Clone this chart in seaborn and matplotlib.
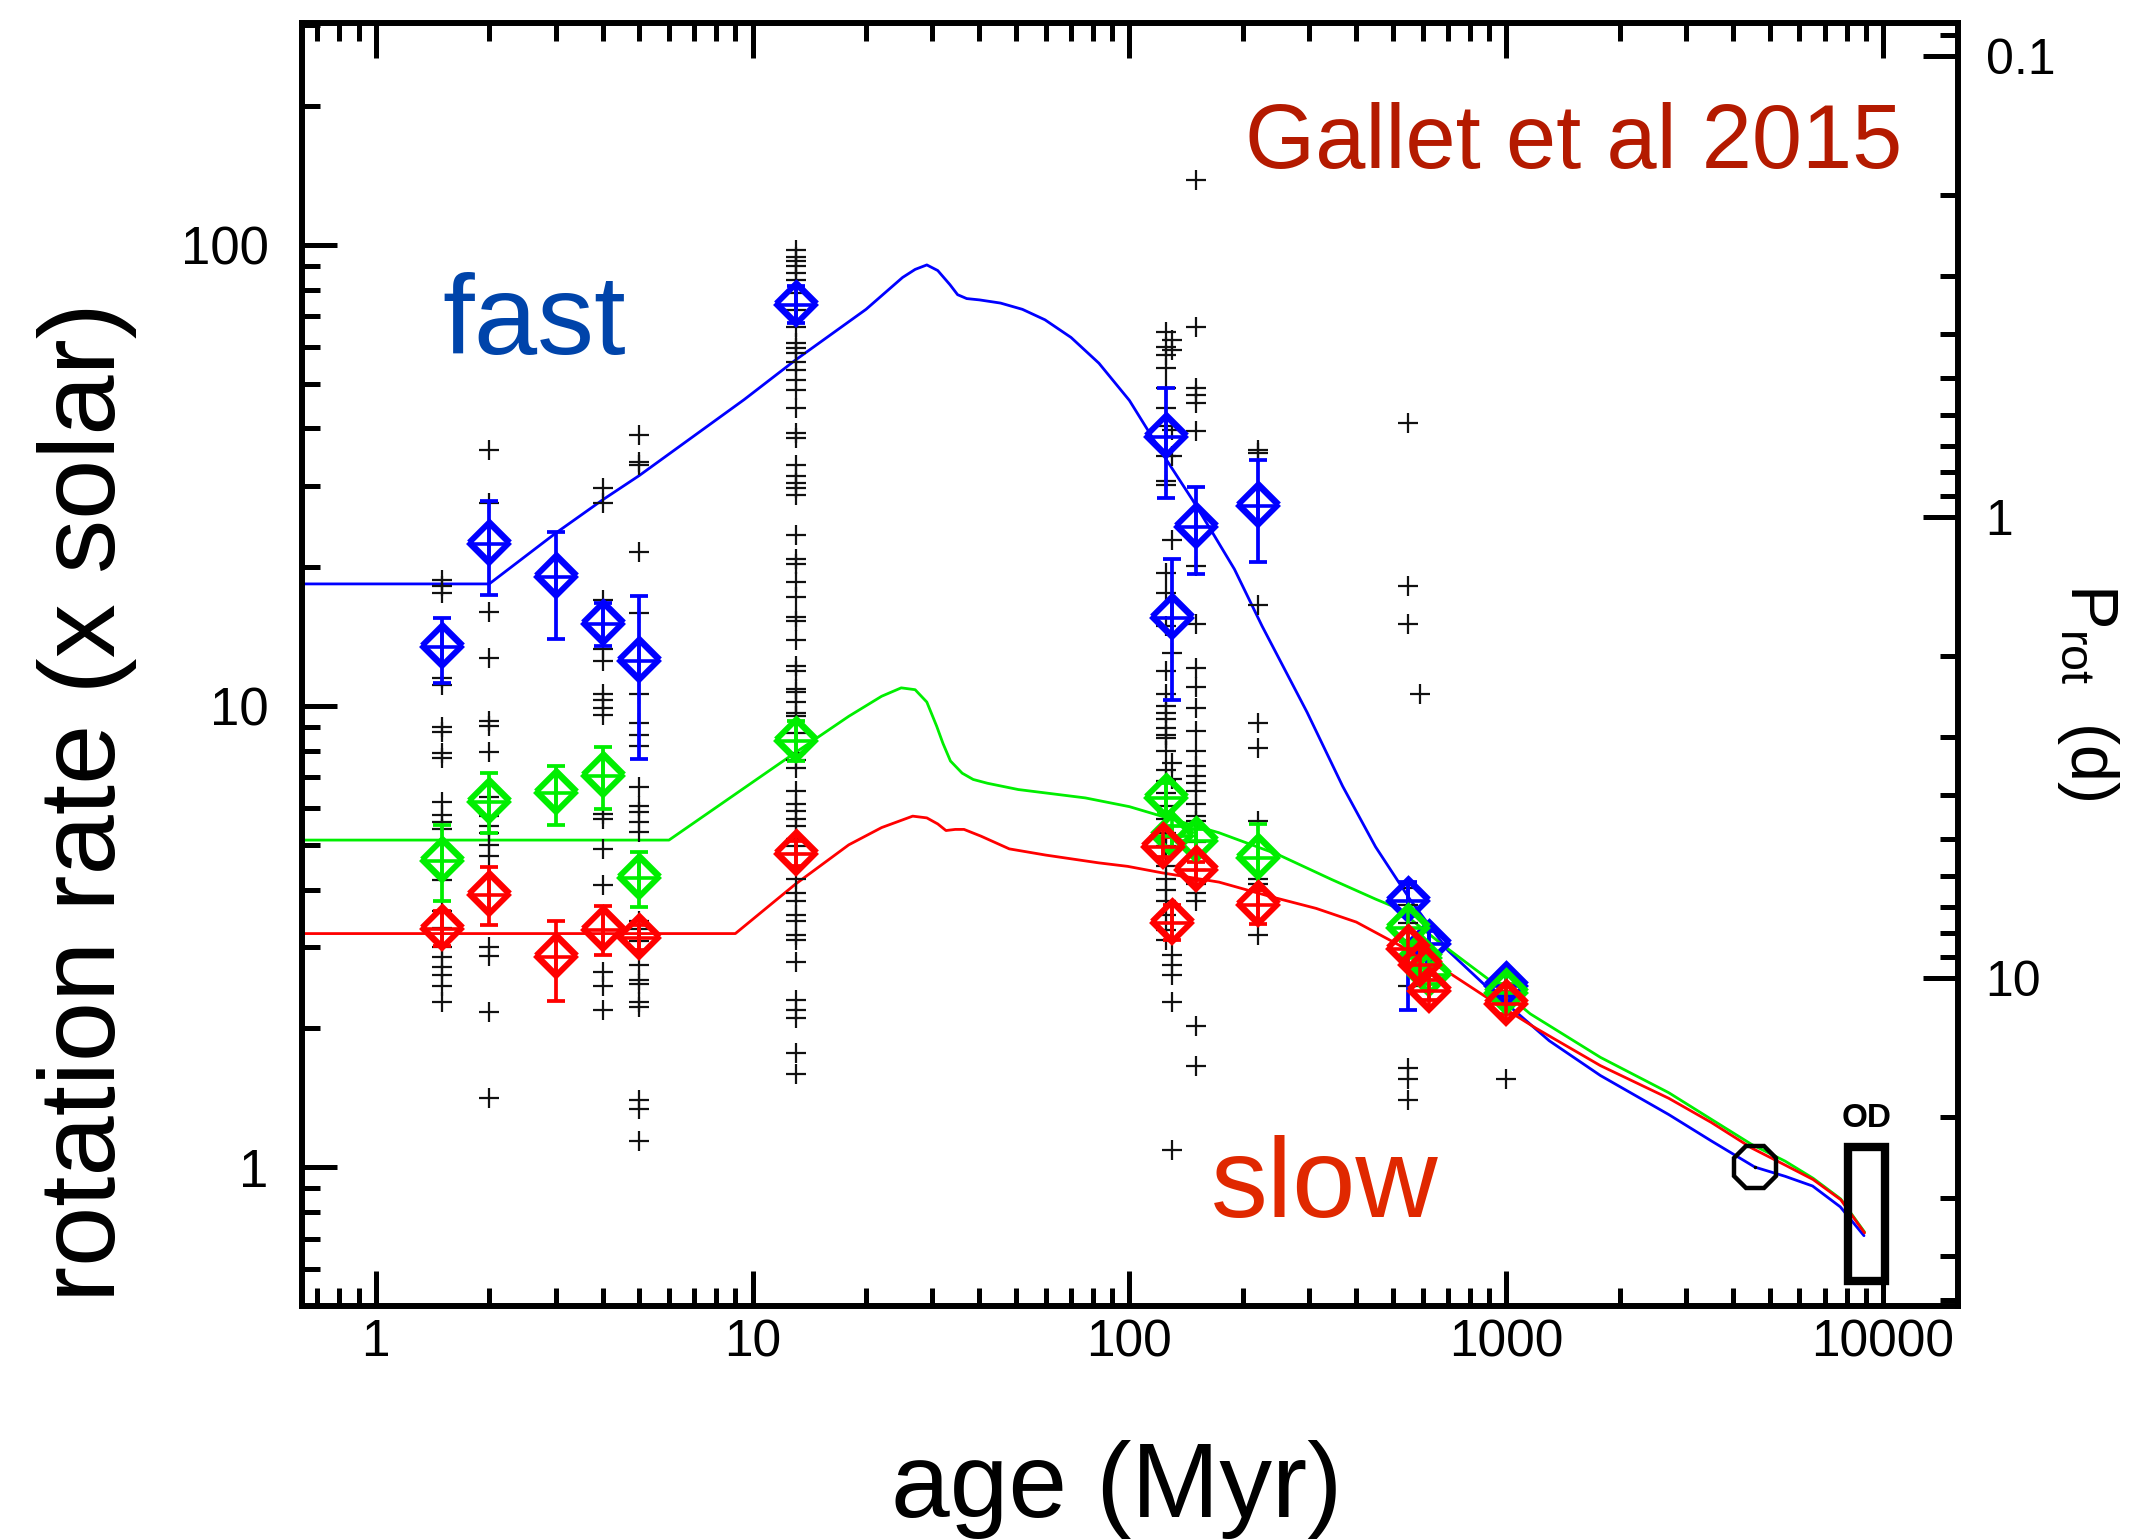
import numpy as np
import pandas as pd
import matplotlib
matplotlib.use("Agg")
import matplotlib.pyplot as plt
import matplotlib.transforms as mtransforms
import seaborn as sns
from matplotlib.ticker import FixedLocator, FixedFormatter, NullFormatter
from matplotlib.patches import Rectangle

# ---------------------------------------------------------------- data
# model tracks: age (Myr) -> rotation rate (x solar)
fast_age = [0.637, 2.0, 3.0, 4.0, 5.0, 9.5, 13, 20, 25, 27, 29, 31, 33.4, 35, 37, 40, 45.5,
            52, 59.7, 70, 83, 100, 122, 147, 166, 190, 225, 296, 368, 450, 555, 700, 883, 1042,
            1300, 1778, 2700, 3500, 4570, 5500, 6500, 7700, 8900]
fast_rate = [18.4, 18.4, 23.7, 28.0, 31.6, 46.2, 56.3, 72.5, 85, 88.5, 90.5, 88.0, 82, 78, 76.5,
             76, 74.8, 72.5, 68.8, 63, 55.4, 46, 35.4, 28, 23.8, 19.8, 14.9, 9.7, 6.7, 4.95,
             3.81, 2.95, 2.47, 2.2, 1.88, 1.58, 1.30, 1.14, 1.0, 0.955, 0.91, 0.82, 0.71]

med_age = [0.637, 6.0, 13, 18, 22, 24.8, 27, 29, 30.8, 32, 33.5, 36, 38.5, 42, 50.7, 76.4, 100,
           121.6, 173, 247, 343, 451, 512, 672, 900, 1158, 1778, 2700, 3500, 4480, 5500,
           6520, 7720, 8930]
med_rate = [5.12, 5.12, 7.93, 9.5, 10.5, 10.95, 10.85, 10.2, 9.04, 8.3, 7.6, 7.15, 6.93, 6.8,
            6.59, 6.32, 6.05, 5.77, 5.31, 4.77, 4.21, 3.81, 3.65, 3.05, 2.55, 2.15, 1.73,
            1.45, 1.27, 1.12, 1.03, 0.946, 0.853, 0.723]

slow_age = [0.637, 9.0, 13, 18, 22, 26.6, 29, 31, 32.6, 34.5, 36.4, 40.4, 48, 60, 82.8, 99,
            121.6, 173, 240, 313, 400, 512, 700, 883, 1200, 1778, 2700, 3500, 4480, 5500,
            6520, 7720, 8930]
slow_rate = [3.21, 3.21, 4.11, 5.0, 5.45, 5.77, 5.72, 5.55, 5.37, 5.40, 5.40, 5.22, 4.9, 4.75,
             4.57, 4.49, 4.35, 4.15, 3.85, 3.64, 3.4, 3.05, 2.65, 2.34, 2.0, 1.66, 1.41,
             1.25, 1.10, 1.01, 0.94, 0.85, 0.72]

# cluster percentiles (diamonds with error bars)
fast_pt_age = [1.5, 2, 3, 4, 5, 13, 125, 130, 150, 220, 550, 625, 1000]
fast_pt_rate = [13.4, 22.5, 19.0, 15.1, 12.5, 74.1, 38.4, 15.5, 24.5, 27.2, 3.77, 3.05, 2.47]
fast_pt_lo = [11.2, 17.4, 14.0, 13.5, 7.69, 67.7, 28.3, 10.3, 19.3, 20.5, 2.19, 2.85, 2.35]
fast_pt_hi = [15.5, 27.8, 23.9, 16.7, 17.3, 81.3, 48.9, 20.8, 29.9, 34.2, 4.15, 3.25, 2.6]

med_pt_age = [1.5, 2, 3, 4, 5, 13, 125, 130, 150, 220, 550, 590, 625, 1000]
med_pt_rate = [4.61, 6.20, 6.49, 7.04, 4.24, 8.39, 6.32, 5.22, 5.09, 4.69, 3.30, 2.84, 2.61, 2.39]
med_pt_lo = [3.77, 5.31, 5.51, 5.99, 3.67, 7.6, 5.9, 4.9, 4.75, 4.0, 3.1, 2.7, 2.5, 2.3]
med_pt_hi = [5.51, 7.14, 7.43, 8.15, 4.82, 9.27, 6.8, 5.5, 5.4, 5.55, 3.5, 3.0, 2.75, 2.5]

slow_pt_age = [1.5, 2, 3, 4, 5, 13, 123, 130, 150, 220, 550, 590, 625, 1000]
slow_pt_rate = [3.29, 3.90, 2.86, 3.26, 3.14, 4.78, 4.95, 3.39, 4.41, 3.70, 2.97, 2.75, 2.41, 2.26]
slow_pt_lo = [3.01, 3.35, 2.29, 2.89, 2.95, 4.5, 4.7, 3.11, 4.2, 3.36, 2.85, 2.6, 2.3, 2.15]
slow_pt_hi = [3.59, 4.48, 3.42, 3.69, 3.35, 5.1, 5.2, 3.70, 4.6, 4.0, 3.1, 2.9, 2.55, 2.4]

# individual stars (black crosses), one list per cluster
stars_1p5 = [18.8, 18.2, 17.6, 11.5, 11.1, 9.0, 8.8, 7.9, 7.7, 6.2, 5.8, 5.6, 5.4, 4.19, 3.6,
             3.3, 3.0, 2.85, 2.72, 2.61, 2.47, 2.28]
stars_2 = [35.9, 27.6, 16.0, 12.7, 9.27, 9.05, 7.93, 6.34, 5.77, 5.5, 5.3, 4.99, 4.74, 3.0,
           2.87, 2.17, 1.41]
stars_4 = [29.7, 27.6, 17.0, 13.3, 12.5, 10.6, 10.3, 9.92, 9.58, 5.82, 5.68, 4.89, 4.1, 2.65,
           2.47, 2.19]
stars_5 = [38.7, 33.9, 33.4, 21.6, 15.9, 10.6, 9.2, 8.67, 8.18, 6.66, 6.07, 5.88, 5.59, 5.32,
           3.42, 3.28, 3.1, 2.75, 2.54, 2.49, 2.28, 2.23, 1.40, 1.34, 1.14]
stars_13 = [97.5, 94.3, 92.1, 89.8, 86.8, 84.0, 78.6, 72.2, 66.5, 61.2, 59.7, 58.2, 55.8, 53.6,
            51.0, 48.5, 44.3, 39.1, 38.1, 33.4, 31.5, 30.5, 29.7, 28.7, 23.5, 20.8, 20.3, 18.6,
            17.2, 15.6, 15.3, 13.9, 12.2, 11.9, 10.9, 10.7, 10.2, 9.68, 9.5, 8.75, 7.92, 7.65,
            7.35, 6.54, 6.12, 5.92, 5.68, 5.49, 5.14, 4.97, 4.77, 4.21, 3.94, 3.77, 3.52, 3.42,
            3.19, 3.11, 2.79, 2.30, 2.19, 2.11, 1.77, 1.59]
stars_125 = [64.9, 60.2, 57.8, 54.1, 48.9, 44.3, 40.4, 34.8, 30.7, 30.2, 19.4, 17.6, 14.9, 11.9,
             10.6, 9.99, 9.67, 9.35, 8.97, 8.67, 8.53, 7.98, 7.28, 6.87, 6.49, 6.07, 5.68, 5.31,
             4.97, 4.50, 4.21, 4.0, 3.77, 3.52, 3.27, 3.11]
stars_130 = [62.2, 59.2, 39.7, 34.8, 22.9, 13.0, 7.53, 6.93, 2.89, 2.75, 2.61, 2.28, 1.09]
stars_150 = [138, 66.5, 48.9, 47.3, 45.4, 39.4, 20.1, 15.1, 12.1, 11.0, 9.91, 8.82, 7.98, 7.41,
             7.04, 6.82, 6.54, 6.12, 5.77, 5.63, 5.08, 4.73, 4.41, 4.11, 3.94, 3.77, 2.02, 1.66]
stars_220 = [35.9, 35.4, 16.6, 9.2, 8.12, 5.63, 4.21, 4.11, 3.19]
stars_550 = [41.1, 18.2, 15.1, 4.04, 3.70, 3.39, 3.11, 2.89, 2.47, 1.64, 1.55, 1.40]
stars_590 = [10.6]
stars_1000 = [1.55]
star_cluster_ages = [1.5, 2, 4, 5, 13, 125, 130, 150, 220, 550, 590, 1000]

sun_age = [4570]
sun_rate = [1.0]
od_age = [8090, 10090]
od_rate = [0.567, 1.108]
PROT_SUN = 25.7  # days, P_rot = PROT_SUN / rate

x_major = [1, 10, 100, 1000, 10000]
x_major_labels = ["1", "10", "100", "1000", "10000"]
y_major = [1, 10, 100]
y_major_labels = ["1", "10", "100"]
p_major = [0.1, 1, 10]
p_major_labels = ["0.1", "1", "10"]

# ---------------------------------------------------------------- style
sns.set_theme(style="ticks")
plt.rcParams["font.family"] = ["Liberation Sans", "DejaVu Sans"]
plt.rcParams["mathtext.default"] = "regular"
for k in ["text.color", "axes.labelcolor", "xtick.color", "ytick.color", "axes.edgecolor"]:
    plt.rcParams[k] = "black"

BLUE, GREEN, RED = "#0000FF", "#00EE00", "#FF0000"

fig = plt.figure(figsize=(21.37, 15.40), dpi=100)
ax = fig.add_axes([0.1413, 0.152, 0.7749, 0.8331])
ax.set_xscale("log")
ax.set_yscale("log")
XMIN, XMAX, YMIN, YMAX = 0.637, 15800, 0.5, 303
ax.set_xlim(XMIN, XMAX)
ax.set_ylim(YMIN, YMAX)

# model tracks
tracks = pd.concat([
    pd.DataFrame({"age": fast_age, "rate": fast_rate, "track": "fast"}),
    pd.DataFrame({"age": med_age, "rate": med_rate, "track": "median"}),
    pd.DataFrame({"age": slow_age, "rate": slow_rate, "track": "slow"}),
], ignore_index=True)
sns.lineplot(data=tracks, x="age", y="rate", hue="track", units="track",
             palette={"fast": BLUE, "median": GREEN, "slow": RED},
             sort=False, estimator=None, legend=False, linewidth=2.0, ax=ax, zorder=2)

# individual stars
star_lists = [stars_1p5, stars_2, stars_4, stars_5, stars_13, stars_125, stars_130,
              stars_150, stars_220, stars_550, stars_590, stars_1000]
stars = pd.DataFrame({
    "age": np.concatenate([[a] * len(l) for a, l in zip(star_cluster_ages, star_lists)]),
    "rate": np.concatenate(star_lists),
})
sns.scatterplot(data=stars, x="age", y="rate", marker="+", s=190, color="#111111",
                linewidth=1.6, ax=ax, zorder=3, legend=False)

# percentile diamonds (drawn twice, slightly offset, as in the original plot)
shift_up = mtransforms.offset_copy(ax.transData, fig=fig, x=0, y=4, units="dots")
for a, r, lo, hi, c in [
    (fast_pt_age, fast_pt_rate, fast_pt_lo, fast_pt_hi, BLUE),
    (med_pt_age, med_pt_rate, med_pt_lo, med_pt_hi, GREEN),
    (slow_pt_age, slow_pt_rate, slow_pt_lo, slow_pt_hi, RED),
]:
    a = np.array(a); r = np.array(r); lo = np.array(lo); hi = np.array(hi)
    ax.errorbar(a, r, yerr=[r - lo, hi - r], fmt="none", ecolor=c, elinewidth=2.7,
                capsize=6.8, capthick=2.7, zorder=4)
    ax.plot(a, r, ls="none", marker="D", ms=20, mfc="none", mec=c, mew=3.0, zorder=5)
    ax.plot(a, r, ls="none", marker="D", ms=20, mfc="none", mec=c, mew=2.4, zorder=5,
            transform=shift_up)
    ax.plot(a, r, ls="none", marker="+", ms=28, mec=c, mew=2.6, zorder=5)

# Sun and old-disc box
ax.plot(sun_age, sun_rate, ls="none", marker="8", ms=33, mfc="none", mec="black", mew=3.2,
        zorder=6)
ax.plot(sun_age, sun_rate, ls="none", marker=".", ms=3, color="black", zorder=6)
ax.add_patch(Rectangle((od_age[0], od_rate[0]), od_age[1] - od_age[0], od_rate[1] - od_rate[0],
                       fill=False, edgecolor="black", linewidth=6, zorder=6))
ax.text(np.sqrt(od_age[0] * od_age[1]), 1.22, "OD", ha="center", va="baseline",
        fontsize=24, fontweight="bold", color="black")

# axes / ticks
for sp in ax.spines.values():
    sp.set_linewidth(4.3)
    sp.set_color("black")
ax.xaxis.set_major_locator(FixedLocator(x_major))
ax.xaxis.set_major_formatter(FixedFormatter(x_major_labels))
x_minor = [m * 10.0 ** e for e in range(-1, 4) for m in range(2, 10)]
ax.xaxis.set_minor_locator(FixedLocator([v for v in x_minor if XMIN < v < XMAX]))
ax.xaxis.set_minor_formatter(NullFormatter())
ax.yaxis.set_major_locator(FixedLocator(y_major))
ax.yaxis.set_major_formatter(FixedFormatter(y_major_labels))
y_minor = [m * 10.0 ** e for e in range(-1, 3) for m in range(2, 10)]
ax.yaxis.set_minor_locator(FixedLocator([v for v in y_minor if YMIN <= v < YMAX]))
ax.yaxis.set_minor_formatter(NullFormatter())
ax.tick_params(axis="both", which="both", direction="in", colors="black", width=3.6)
ax.tick_params(axis="both", which="major", length=25)
ax.tick_params(axis="both", which="minor", length=13)
ax.tick_params(axis="x", which="both", top=True, bottom=True, labelsize=37, pad=9)
ax.tick_params(axis="y", which="both", left=True, right=False, labelsize=38, pad=24)

ax2 = ax.twinx()
ax2.set_yscale("log")
ax2.set_ylim(PROT_SUN / YMIN, PROT_SUN / YMAX)
ax2.yaxis.set_major_locator(FixedLocator(p_major))
ax2.yaxis.set_major_formatter(FixedFormatter(p_major_labels))
p_minor = [m * 10.0 ** e for e in range(-2, 2) for m in range(2, 10)]
lo_p, hi_p = PROT_SUN / YMAX, PROT_SUN / YMIN
ax2.yaxis.set_minor_locator(FixedLocator([v for v in p_minor if lo_p < v < hi_p]))
ax2.yaxis.set_minor_formatter(NullFormatter())
ax2.tick_params(axis="y", which="both", direction="in", colors="black", width=3.6,
                labelsize=36, pad=20)
ax2.tick_params(axis="y", which="major", length=25)
ax2.tick_params(axis="y", which="minor", length=13)
for sp in ax2.spines.values():
    sp.set_visible(False)

ax.set_xlabel("")
ax.set_ylabel("")

# labels and annotations
fig.text(0.5227, 0.0149, "age (Myr)", ha="center", va="baseline", fontsize=76, color="black")
fig.text(0.0538, 0.479, "rotation rate (x solar)", rotation=90, rotation_mode="anchor",
         ha="center", va="baseline", fontsize=78, color="black")
fig.text(0.9693, 0.5506, r"P$_{rot}$  (d)", rotation=270, rotation_mode="anchor",
         ha="center", va="baseline", fontsize=48, color="black")
fig.text(0.2501, 1 - 354 / 1540, "fast", ha="center", va="baseline", fontsize=82,
         color="#0044AA")
fig.text(1211 / 2137, 1 - 1217 / 1540, "slow", ha="left", va="baseline", fontsize=82,
         color="#E02800")
fig.text(1245 / 2137, 1 - 168 / 1540, "Gallet et al 2015", ha="left", va="baseline",
         fontsize=65, color="#B41A00")

fig.savefig("out.png", dpi=100)
